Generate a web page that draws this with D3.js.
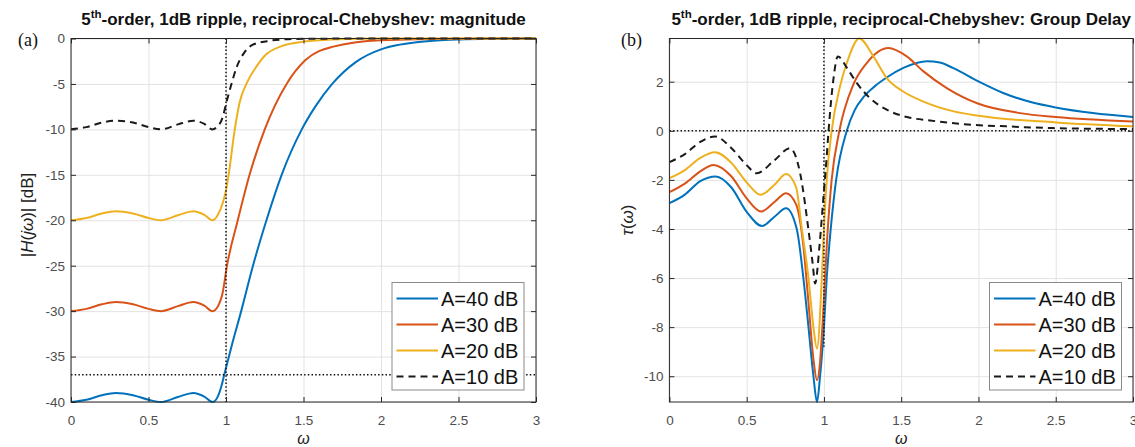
<!DOCTYPE html>
<html>
<head>
<meta charset="utf-8">
<script src="https://cdn.jsdelivr.net/npm/d3@7"></script>
<style>
  body { margin: 0; background: #fff; }
  svg { font-family: "Liberation Sans", Arial, sans-serif; }
  .grid line { stroke: #e3e3e3; stroke-width: 1; }
  .grid path { display: none; }
  .ticks path { display: none; }
  .ticks line { stroke: #262626; }
  .ticks text { fill: #4d4d4d; font-size: 13.5px; }
</style>
</head>
<body>
<script>
"use strict";

// ---- data ----
var xTicks = [0, 0.5, 1, 1.5, 2, 2.5, 3];
var magTicks = [-40, -35, -30, -25, -20, -15, -10, -5, 0];
var delayTicks = [-10, -8, -6, -4, -2, 0, 2];
var seriesNames = ["A=40 dB", "A=30 dB", "A=20 dB", "A=10 dB"];

// magnitude |H(jw)| in dB
var magW40 = [0, 0.1, 0.2, 0.29, 0.4, 0.5, 0.58, 0.69, 0.79, 0.86, 0.913, 0.946, 0.972, 0.989, 1.04, 1.098, 1.174, 1.261, 1.359, 1.489, 1.576, 1.685, 1.837, 2.0, 2.1, 2.228, 2.507, 2.75, 3.0];
var magA40 = [-40, -39.75, -39.25, -39.0, -39.25, -39.75, -40, -39.45, -39.0, -39.4, -40, -39.43, -38.15, -36.98, -33.6, -30.0, -25.0, -20.0, -15.0, -10.0, -7.5, -5.0, -2.6, -1.2, -0.75, -0.42, -0.11, -0.03, 0];
var magW30 = [0, 0.1, 0.2, 0.29, 0.4, 0.5, 0.58, 0.69, 0.79, 0.86, 0.913, 0.946, 0.978, 1.0065, 1.076, 1.152, 1.25, 1.391, 1.511, 1.685, 2.0, 2.5, 3.0];
var magA30 = [-30, -29.75, -29.25, -29.0, -29.25, -29.75, -30, -29.45, -29.0, -29.4, -30, -29.52, -28.0, -25.0, -20.0, -15.0, -10.0, -5.0, -2.4, -0.92, -0.18, -0.02, 0];
var magW20 = [0, 0.1, 0.2, 0.29, 0.4, 0.5, 0.58, 0.69, 0.79, 0.86, 0.913, 0.946, 0.978, 1.0, 1.017, 1.054, 1.087, 1.137, 1.196, 1.25, 1.359, 1.496, 1.685, 2.0, 3.0];
var magA20 = [-20, -19.75, -19.25, -19.0, -19.25, -19.75, -20, -19.45, -19.0, -19.4, -20, -19.44, -18.16, -16.7, -15.0, -10.3, -7.1, -4.8, -3.1, -1.9, -0.84, -0.37, -0.11, 0, 0];
var magW10 = [0, 0.1, 0.2, 0.29, 0.4, 0.5, 0.58, 0.69, 0.79, 0.86, 0.91, 0.95, 0.98, 1.0, 1.027, 1.07, 1.12, 1.167, 1.264, 1.4, 1.6, 2.0, 3.0];
var magA10 = [-10, -9.75, -9.25, -9.05, -9.25, -9.75, -10, -9.45, -9.05, -9.4, -10, -9.6, -8.6, -7.2, -5.5, -3.1, -1.5, -0.74, -0.3, -0.08, -0.02, 0, 0];

// group delay tau(w)
var delayW40 = [0, 0.1, 0.2, 0.3, 0.4, 0.5, 0.6, 0.68, 0.755, 0.824, 0.867, 0.9, 0.932, 0.955, 0.975, 1.0, 1.018, 1.044, 1.079, 1.148, 1.2, 1.26, 1.33, 1.406, 1.514, 1.6, 1.665, 1.75, 1.838, 2.0, 2.16, 2.35, 2.5, 2.74, 3.0];
var delayA40 = [-2.95, -2.6, -2.05, -1.86, -2.3, -3.3, -3.88, -3.5, -3.16, -4.0, -6.0, -8.0, -10.0, -11.05, -10.0, -8.0, -6.0, -4.0, -2.0, 0, 0.85, 1.4, 1.82, 2.17, 2.56, 2.76, 2.83, 2.78, 2.55, 2.01, 1.54, 1.15, 0.95, 0.72, 0.56];
var delayW30 = [0, 0.1, 0.2, 0.285, 0.4, 0.5, 0.593, 0.68, 0.755, 0.82, 0.867, 0.9, 0.932, 0.955, 0.975, 0.99, 1.025, 1.05, 1.1, 1.19, 1.277, 1.417, 1.536, 1.644, 1.795, 2.0, 2.27, 2.5, 3.0];
var delayA30 = [-2.5, -2.15, -1.65, -1.39, -1.85, -2.75, -3.29, -2.9, -2.54, -3.0, -4.7, -7.0, -9.3, -10.16, -9.4, -8.0, -4.0, -2.0, 0, 1.88, 2.76, 3.37, 3.03, 2.42, 1.74, 1.1, 0.72, 0.56, 0.38];
var delayW20 = [0, 0.1, 0.2, 0.295, 0.4, 0.5, 0.59, 0.68, 0.755, 0.82, 0.857, 0.9, 0.932, 0.955, 0.986, 1.0, 1.018, 1.05, 1.1, 1.148, 1.229, 1.32, 1.406, 1.5, 1.64, 1.84, 2.0, 2.5, 3.0];
var delayA20 = [-1.93, -1.6, -1.1, -0.87, -1.3, -2.1, -2.61, -2.2, -1.76, -2.3, -4.0, -6.0, -8.0, -8.87, -6.05, -4.0, -2.0, 0, 1.7, 2.76, 3.76, 3.03, 2.15, 1.65, 1.2, 0.79, 0.61, 0.34, 0.18];
var delayW10 = [0, 0.1, 0.2, 0.295, 0.4, 0.5, 0.565, 0.68, 0.78, 0.846, 0.9, 0.927, 0.943, 0.971, 0.997, 1.018, 1.03, 1.061, 1.09, 1.15, 1.212, 1.298, 1.406, 1.536, 1.687, 1.9, 2.18, 2.48, 3.0];
var delayA10 = [-1.28, -0.95, -0.45, -0.23, -0.7, -1.4, -1.73, -1.2, -0.71, -1.73, -4.04, -5.4, -6.22, -4.7, -2.68, -1.05, 0, 2.08, 3.03, 2.55, 1.95, 1.33, 0.86, 0.56, 0.42, 0.27, 0.18, 0.11, 0.07];

// dotted reference marks
var bandEdge = 1;
var magRefLevel = -37;
var delayRefLevel = 0;
var delayEdgeLow = -8.8;

var colors = ["#0072BD", "#D95319", "#EDB120", "#1a1a1a"];
var dashes = [null, null, null, "7,5"];

var svg = d3.select("body").append("svg")
    .attr("width", 1135)
    .attr("height", 447);

var plotTop = 38.5, plotBottom = 402;

function drawPanel(p) {
    var x = d3.scaleLinear().domain([0, 3]).range([p.left, p.right]);
    var allY = d3.merge(p.values);
    var y = d3.scaleLinear().domain(d3.extent(allY)).range([plotBottom, plotTop]);
    var g = svg.append("g");

    var clipId = "clip_" + p.id;
    svg.append("clipPath").attr("id", clipId)
        .append("rect")
        .attr("x", p.left).attr("y", plotTop - 2)
        .attr("width", p.right - p.left).attr("height", plotBottom - plotTop + 4);

    // grid
    g.append("g").attr("class", "grid")
        .attr("transform", "translate(0," + plotBottom + ")")
        .call(d3.axisBottom(x).tickValues(xTicks).tickSize(-(plotBottom - plotTop)).tickFormat(""));
    g.append("g").attr("class", "grid")
        .attr("transform", "translate(" + p.left + ",0)")
        .call(d3.axisLeft(y).tickValues(p.yTicks).tickSize(-(p.right - p.left)).tickFormat(""));

    // curves
    var line = d3.line()
        .x(function(d) { return x(d[0]); })
        .y(function(d) { return y(d[1]); })
        .curve(d3.curveMonotoneX);

    var gLines = g.append("g").attr("clip-path", "url(#" + clipId + ")");
    p.values.forEach(function(v, i) {
        gLines.append("path")
            .datum(d3.zip(p.omegas[i], v))
            .attr("fill", "none")
            .attr("stroke", colors[i])
            .attr("stroke-width", 2)
            .attr("stroke-dasharray", dashes[i])
            .attr("d", line);
    });

    // dotted reference lines
    p.refs.forEach(function(r) {
        gLines.append("line")
            .attr("x1", x(r.x1)).attr("x2", x(r.x2))
            .attr("y1", y(r.y1)).attr("y2", y(r.y2))
            .attr("stroke", "#111")
            .attr("stroke-width", 1.5)
            .attr("stroke-dasharray", "1.5,2.2");
    });

    // axes with inward ticks on all four sides
    g.append("g").attr("class", "ticks")
        .attr("transform", "translate(0," + plotBottom + ")")
        .call(d3.axisBottom(x).tickValues(xTicks).tickSizeInner(-5).tickSizeOuter(0).tickPadding(13)
            .tickFormat(d3.format("")));
    g.append("g").attr("class", "ticks")
        .attr("transform", "translate(0," + plotTop + ")")
        .call(d3.axisTop(x).tickValues(xTicks).tickSizeInner(-5).tickSizeOuter(0).tickFormat(""));
    g.append("g").attr("class", "ticks")
        .attr("transform", "translate(" + p.left + ",0)")
        .call(d3.axisLeft(y).tickValues(p.yTicks).tickSizeInner(-5).tickSizeOuter(0).tickPadding(6)
            .tickFormat(function(d) { return String(d); }));
    g.append("g").attr("class", "ticks")
        .attr("transform", "translate(" + p.right + ",0)")
        .call(d3.axisRight(y).tickValues(p.yTicks).tickSizeInner(-5).tickSizeOuter(0).tickFormat(""));

    g.append("rect")
        .attr("x", p.left).attr("y", plotTop)
        .attr("width", p.right - p.left).attr("height", plotBottom - plotTop)
        .attr("fill", "none")
        .attr("stroke", "#262626")
        .attr("stroke-width", 1);

    // title
    var title = g.append("text")
        .attr("x", (p.left + p.right) / 2)
        .attr("y", 25)
        .attr("text-anchor", "middle")
        .attr("font-weight", "bold")
        .attr("font-size", "17px")
        .attr("fill", "#111");
    title.append("tspan").text("5");
    title.append("tspan").attr("dy", -7).attr("font-size", "11.5px").text("th");
    title.append("tspan").attr("dy", 7).text("-order, 1dB ripple, reciprocal-Chebyshev: " + p.titleEnd);

    // panel tag
    g.append("text")
        .attr("x", p.tagX).attr("y", 46)
        .attr("font-family", "'Liberation Serif', 'Times New Roman', serif")
        .attr("font-size", "18px")
        .attr("fill", "#111")
        .text(p.tag);

    // x label
    g.append("text")
        .attr("x", (p.left + p.right) / 2)
        .attr("y", 444)
        .attr("text-anchor", "middle")
        .attr("font-style", "italic")
        .attr("font-size", "16px")
        .attr("fill", "#222")
        .text("\u03c9");

    // y label
    var yl = g.append("text")
        .attr("transform", "translate(" + p.yLabelX + "," + p.yLabelY + ") rotate(-90)")
        .attr("text-anchor", "middle")
        .attr("font-size", "17px")
        .attr("fill", "#222");
    p.yLabel.forEach(function(part) {
        yl.append("tspan")
            .attr("font-style", part[1] ? "italic" : "normal")
            .text(part[0]);
    });

    // legend
    var lg = g.append("g").attr("transform", "translate(" + p.legendX + ",282.5)");
    lg.append("rect")
        .attr("width", 132).attr("height", 107.5)
        .attr("fill", "#fff")
        .attr("stroke", "#8a8a8a")
        .attr("stroke-width", 1);
    seriesNames.forEach(function(name, i) {
        var cy = 16 + i * 26;
        lg.append("line")
            .attr("x1", 4.5).attr("x2", 46)
            .attr("y1", cy).attr("y2", cy)
            .attr("stroke", colors[i])
            .attr("stroke-width", 2.2)
            .attr("stroke-dasharray", dashes[i]);
        lg.append("text")
            .attr("x", 49).attr("y", cy + 7)
            .attr("font-size", "20px")
            .attr("fill", "#111")
            .text(name);
    });
}

drawPanel({
    id: "mag",
    left: 71, right: 536,
    omegas: [magW40, magW30, magW20, magW10],
    values: [magA40, magA30, magA20, magA10],
    yTicks: magTicks,
    refs: [
        { x1: bandEdge, x2: bandEdge, y1: 0, y2: -40 },
        { x1: 0, x2: 3, y1: magRefLevel, y2: magRefLevel }
    ],
    titleEnd: "magnitude",
    tag: "(a)", tagX: 18,
    yLabel: [["|", false], ["H", true], ["(", false], ["j\u03c9", true], [")| [dB]", false]],
    yLabelX: 33, yLabelY: 215,
    legendX: 392
});

drawPanel({
    id: "delay",
    left: 669.4, right: 1133,
    omegas: [delayW40, delayW30, delayW20, delayW10],
    values: [delayA40, delayA30, delayA20, delayA10],
    yTicks: delayTicks,
    refs: [
        { x1: 0, x2: 3, y1: delayRefLevel, y2: delayRefLevel },
        { x1: bandEdge, x2: bandEdge, y1: 3.76, y2: delayEdgeLow }
    ],
    titleEnd: "Group Delay",
    tag: "(b)", tagX: 621,
    yLabel: [["\u03c4", true], ["(", false], ["\u03c9", true], [")", false]],
    yLabelX: 633, yLabelY: 220,
    legendX: 989.5
});
</script>
</body>
</html>
